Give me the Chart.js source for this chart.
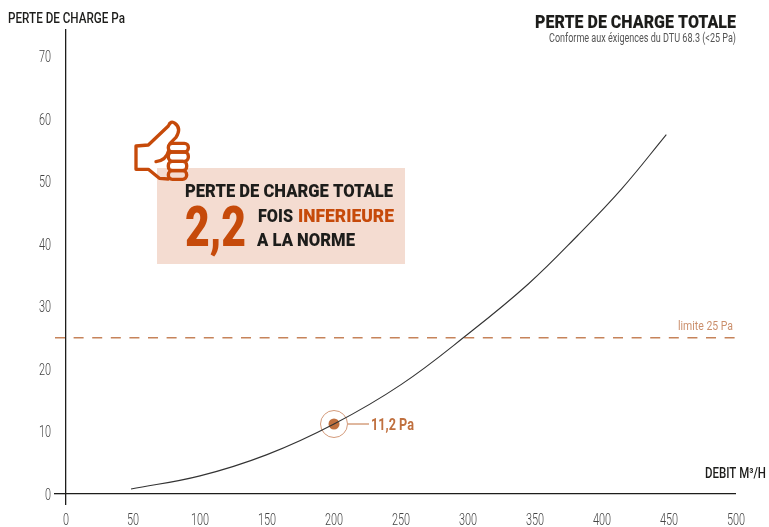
<!DOCTYPE html>
<html>
<head>
<meta charset="utf-8">
<style>
  html, body { margin: 0; padding: 0; background: #fff; }
  #chart { display: block; }
</style>
<script src="https://cdn.jsdelivr.net/npm/chart.js@4"></script>
</head>
<body>
<canvas id="chart" width="769" height="527"></canvas>
<script>
const debit = [48.5, 100, 150, 200, 250, 300, 345, 382, 415, 448];
const perte = [0.8, 2.9, 6.3, 11.2, 17.5, 25.6, 33.6, 41.4, 48.9, 57.5];
const limiteDebit = [-8.2, 500];
const limiteValeur = [25, 25];
const pointDebit = [200];
const pointValeur = [11.2];

const ORANGE = "#c64a0a";
const BRUN = "#c0703f";
const NOIR = "#1d1d1b";

function paires(xs, ys) {
    return xs.map((x, i) => ({ x, y: ys[i] }));
}

// text squeezed to the width measured on the picture
function texte(ctx, str, x, y, w, font, color) {
    ctx.save();
    ctx.font = font;
    ctx.fillStyle = color;
    ctx.textAlign = "left";
    ctx.textBaseline = "alphabetic";
    ctx.translate(x, y);
    ctx.scale(w / ctx.measureText(str).width, 1);
    ctx.fillText(str, 0, 0);
    ctx.restore();
}

// tick labels come from the scales, Roboto is only too wide for them
function graduation(ctx, str, x, y, align) {
    ctx.save();
    ctx.font = "300 16px Roboto";
    ctx.fillStyle = "#444";
    ctx.textAlign = align;
    ctx.textBaseline = "alphabetic";
    ctx.translate(x, y);
    ctx.scale(0.68, 1);
    ctx.fillText(str, 0, 0);
    ctx.restore();
}

function pouce(ctx) {
    ctx.save();
    ctx.translate(120, 110);
    ctx.scale(1 / 3, 1 / 3);
    ctx.strokeStyle = ORANGE;
    ctx.lineWidth = 10;
    ctx.lineJoin = "round";
    ctx.lineCap = "round";
    ctx.beginPath();
    ctx.moveTo(145, 207);
    ctx.lineTo(118, 205);
    ctx.lineTo(85, 178);
    ctx.lineTo(48, 178);
    ctx.lineTo(48, 108);
    ctx.lineTo(85, 105);
    ctx.lineTo(145, 48);
    ctx.quadraticCurveTo(152, 30, 165, 40);
    ctx.quadraticCurveTo(185, 55, 168, 82);
    ctx.lineTo(150, 100);
    ctx.stroke();
    ctx.beginPath();
    ctx.moveTo(108, 155);
    ctx.quadraticCurveTo(138, 152, 146, 122);
    ctx.stroke();
    [[100, 26], [126, 28], [154, 28], [182, 26]].forEach(([y, h]) => {
        ctx.beginPath();
        ctx.roundRect(145, y, y < 150 ? 60 : 55, h, 12);
        ctx.stroke();
    });
    ctx.restore();
}

const habillage = {
    id: "habillage",
    beforeDatasetsDraw(chart) {
        const ctx = chart.ctx;
        const font = "900 19px Roboto";
        ctx.fillStyle = "#f4dcd1";
        ctx.fillRect(157, 168, 248, 96);
        pouce(ctx);
        texte(ctx, "PERTE DE CHARGE TOTALE", 185, 197, 208, font, NOIR);
        texte(ctx, "2,2", 185, 246, 61, "900 56px Roboto", ORANGE);
        texte(ctx, "FOIS", 258, 222, 35, font, NOIR);
        texte(ctx, "INFERIEURE", 298, 222, 96, font, ORANGE);
        texte(ctx, "A LA NORME", 257, 246, 98, font, NOIR);
        texte(ctx, "PERTE DE CHARGE TOTALE", 535, 28, 201, font, NOIR);
        texte(ctx, "Conforme aux éxigences du DTU 68.3 (<25 Pa)", 549, 42, 187, "400 12px Roboto", "#555");
        texte(ctx, "PERTE DE CHARGE Pa", 8, 23, 117, "500 14px Roboto", NOIR);
        texte(ctx, "DEBIT M³/H", 705, 478, 61, "500 14px Roboto", NOIR);

        const x = chart.scales.x;
        const y = chart.scales.y;
        x.ticks.forEach(t => graduation(ctx, String(t.value), x.getPixelForValue(t.value), 525, "center"));
        y.ticks.forEach(t => graduation(ctx, String(t.value), 51, y.getPixelForValue(t.value) + 5.7, "right"));
    },
    afterDatasetsDraw(chart) {
        const ctx = chart.ctx;
        const px = chart.scales.x.getPixelForValue(pointDebit[0]);
        const py = chart.scales.y.getPixelForValue(pointValeur[0]);
        ctx.save();
        ctx.strokeStyle = BRUN;
        ctx.lineWidth = 1;
        ctx.beginPath();
        ctx.moveTo(px + 14, py);
        ctx.lineTo(px + 35, py);
        ctx.stroke();
        ctx.restore();
        texte(ctx, "11,2 Pa", px + 37, py + 6, 43, "700 17px Roboto", BRUN);
        const ly = chart.scales.y.getPixelForValue(limiteValeur[0]);
        texte(ctx, "limite 25 Pa", 678, ly - 8, 55, "400 12px Roboto", "#cb8f6c");
    }
};

new Chart(document.getElementById("chart"), {
    type: "scatter",
    data: {
        datasets: [
            {
                data: paires(debit, perte),
                showLine: true,
                tension: 0.4,
                borderColor: "#333",
                borderWidth: 1.1,
                pointRadius: 0
            },
            {
                data: paires(limiteDebit, limiteValeur),
                showLine: true,
                clip: false,
                borderColor: "#c6835a",
                borderWidth: 1.5,
                borderDash: [10, 8.6],
                pointRadius: 0
            },
            {
                data: paires(pointDebit, pointValeur),
                pointRadius: 13.5,
                pointBackgroundColor: "transparent",
                pointBorderColor: "#d39a7a",
                pointBorderWidth: 1
            },
            {
                data: paires(pointDebit, pointValeur),
                pointRadius: 5.5,
                pointBackgroundColor: BRUN,
                pointBorderWidth: 0
            }
        ]
    },
    options: {
        responsive: false,
        animation: false,
        layout: { padding: { top: 29, right: 33 } },
        plugins: {
            legend: { display: false },
            tooltip: { enabled: false }
        },
        scales: {
            x: {
                type: "linear",
                min: 0,
                max: 500,
                afterFit: s => { s.height = 33; },
                border: { display: false },
                grid: {
                    color: c => (c.tick && c.tick.value === 0 ? NOIR : "transparent"),
                    tickLength: 11,
                    lineWidth: 1.3
                },
                ticks: { stepSize: 50, display: false }
            },
            y: {
                type: "linear",
                min: 0,
                max: 74.4,
                afterFit: s => { s.width = 66; },
                border: { display: false },
                grid: {
                    color: c => (c.tick && c.tick.value === 0 ? NOIR : "transparent"),
                    tickLength: 12,
                    lineWidth: 1.3
                },
                ticks: { stepSize: 10, includeBounds: false, display: false }
            }
        }
    },
    plugins: [habillage]
});
</script>
</body>
</html>
